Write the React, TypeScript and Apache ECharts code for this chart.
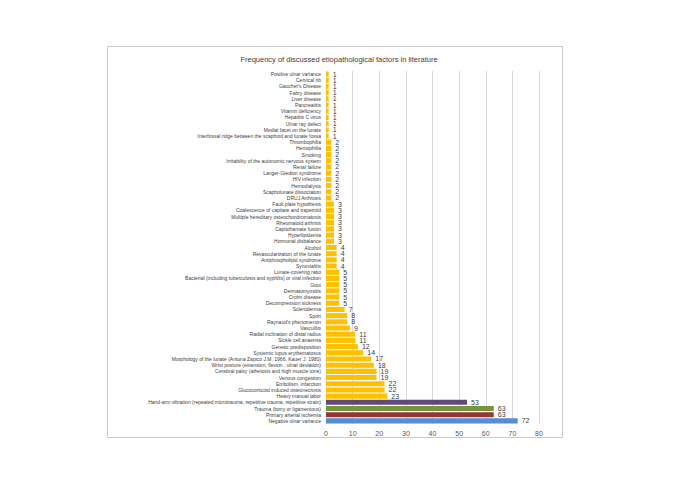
import React, { useEffect, useRef } from "react";
import * as echarts from "echarts";

const categories: string[] = [
  "Positive ulnar variance",
  "Cervical rib",
  "Gaucher's Disease",
  "Fabry disease",
  "Liver disease",
  "Pancreatitis",
  "Vitamin deficiency",
  "Hepatitis C virus",
  "Ulnar ray defect",
  "Medial facet on the lunate",
  "Interfossal ridge between the scaphoid and lunate fossa",
  "Thrombophilia",
  "Hemophilia",
  "Smoking",
  "Irritability of the autonomic nervous system",
  "Renal failure",
  "Langer-Giedion syndrome",
  "HIV infection",
  "Hemodialysis",
  "Scapholunate dissociation",
  "DRUJ Arthrosis",
  "Fault plate hypothesis",
  "Coalescence of capitate and trapezoid",
  "Multiple hereditary osteochondromatosis",
  "Rheumatoid arthritis",
  "Capitohamate fusion",
  "Hyperlipidemia",
  "Hormonal disbalance",
  "Alcohol",
  "Revascularization of the lunate",
  "Antiphospholipid syndrome",
  "Synovialitis",
  "Lunate-covering ratio",
  "Bacterial (including tuberculosis and syphilis) or viral infection",
  "Gout",
  "Dermatomyositis",
  "Crohn disease",
  "Decompression sickness",
  "Scleroderma",
  "Sport",
  "Raynaud's phenomenon",
  "Vasculitis",
  "Radial inclination of distal radius",
  "Sickle cell anaemia",
  "Genetic predisposition",
  "Systemic lupus erythematosus",
  "Morphology of the lunate (Antuna Zapico J.M. 1966, Kauer J. 1980)",
  "Wrist posture (extension, flexion , ulnar deviation)",
  "Cerebral palsy (athetosis and high muscle tone)",
  "Venous congestion",
  "Embolism, infarction",
  "Glucocorticoid induced osteonecrosis",
  "Heavy manual labor",
  "Hand-arm vibration (repeated microtrauma, repetitive trauma, repetitive strain)",
  "Trauma (bony or ligamentous)",
  "Primary arterial ischemia",
  "Negative ulnar variance",
];

const values: number[] = [
  1, 1, 1, 1, 1, 1, 1, 1, 1, 1, 1,
  2, 2, 2, 2, 2, 2, 2, 2, 2, 2,
  3, 3, 3, 3, 3, 3, 3,
  4, 4, 4, 4,
  5, 5, 5, 5, 5, 5,
  7, 8, 8, 9, 11, 11, 12, 14, 17, 18, 19, 19, 22, 22, 23,
  53, 63, 63, 72,
];

const specialColors: Record<string, string> = {
  "Hand-arm vibration (repeated microtrauma, repetitive trauma, repetitive strain)": "#604A7B",
  "Trauma (bony or ligamentous)": "#77933C",
  "Primary arterial ischemia": "#953735",
  "Negative ulnar variance": "#558ED5",
};
const defaultColor = "#FFC000";

const xTicks: number[] = [0, 10, 20, 30, 40, 50, 60, 70, 80];

export default function App() {
  const ref = useRef<HTMLDivElement>(null);
  useEffect(() => {
    if (!ref.current) return;
    const chart = echarts.init(ref.current, null, { renderer: "svg" });
    chart.setOption({
      animation: false,
      backgroundColor: "#ffffff",
      graphic: [
        {
          type: "rect",
          shape: { x: 107.5, y: 46.5, width: 455, height: 391 },
          style: { fill: "none", stroke: "#c8c8c8", lineWidth: 1 },
          silent: true,
        },
      ],
      title: {
        text: "Frequency of discussed etiopathological factors in literature",
        left: 334,
        top: 50,
        textAlign: "center",
        textStyle: {
          fontFamily: "Liberation Sans, Arial, sans-serif",
          fontSize: 7.5,
          fontWeight: "normal",
          color: "#404040",
        },
      },
      grid: { left: 326, right: 146, top: 71, bottom: 60, containLabel: false },
      xAxis: {
        type: "value",
        min: xTicks[0],
        max: xTicks[xTicks.length - 1],
        interval: 10,
        axisLine: { show: false },
        axisTick: { show: false },
        splitLine: { show: true, lineStyle: { color: "#d9d9d9", width: 1 } },
        axisLabel: {
          fontSize: 7,
          color: "#595959",
          margin: 6,
          fontFamily: "Liberation Sans, Arial, sans-serif",
        },
      },
      yAxis: {
        type: "category",
        data: categories,
        inverse: true,
        axisLine: { show: false },
        axisTick: { show: false },
        axisLabel: {
          fontSize: 5,
          color: "#404040",
          margin: 5,
          interval: 0,
          fontFamily: "Liberation Sans, Arial, sans-serif",
        },
      },
      series: [
        {
          type: "bar",
          barCategoryGap: "18%",
          data: values.map((v, i) => ({
            value: v,
            itemStyle: { color: specialColors[categories[i]] || defaultColor },
          })),
          label: {
            show: true,
            position: "right",
            distance: 4,
            fontSize: 7,
            color: "#404040",
            fontFamily: "Liberation Sans, Arial, sans-serif",
          },
        },
      ],
    });
    return () => chart.dispose();
  }, []);
  return (
    <div
      ref={ref}
      style={{ position: "fixed", left: 0, top: 0, width: 685, height: 484 }}
    />
  );
}
